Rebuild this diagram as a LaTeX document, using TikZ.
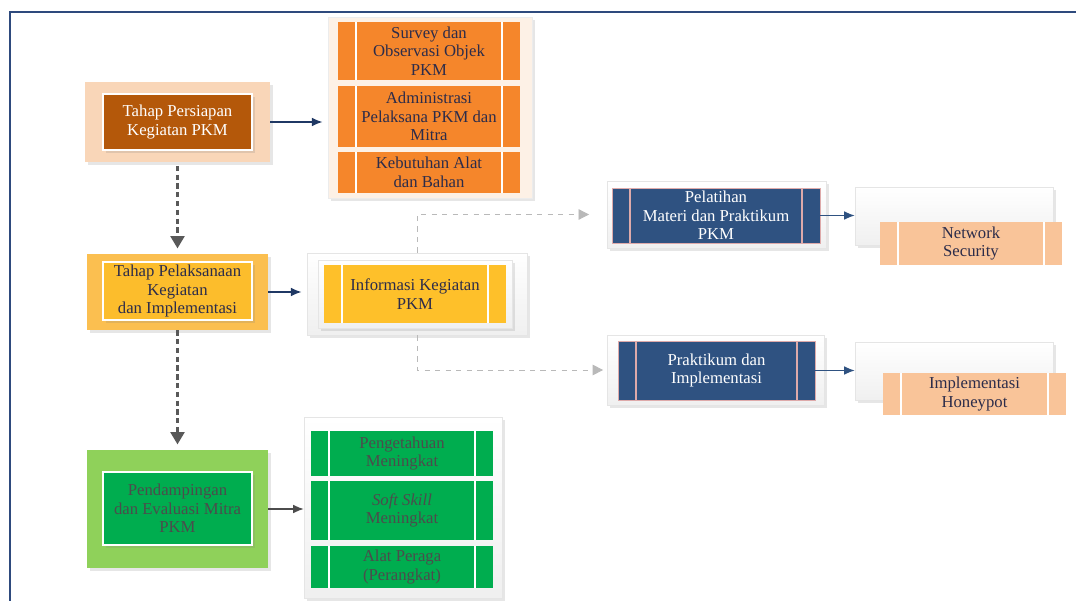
\documentclass[tikz,border=0pt]{standalone}
\usepackage{fontspec}
\setmainfont{Liberation Serif}
\usetikzlibrary{shadows,arrows.meta}
\definecolor{framec}{RGB}{46,74,125}
\definecolor{prepbg}{RGB}{249,214,184}
\definecolor{prepc}{RGB}{180,88,10}
\definecolor{orgbg}{RGB}{253,241,230}
\definecolor{orgc}{RGB}{245,134,43}
\definecolor{pelakbg}{RGB}{251,191,80}
\definecolor{pelakc}{RGB}{252,189,44}
\definecolor{infoc}{RGB}{254,192,42}
\definecolor{bluec}{RGB}{47,82,129}
\definecolor{pinkc}{RGB}{222,170,170}
\definecolor{peachc}{RGB}{249,196,153}
\definecolor{pendbg}{RGB}{143,209,90}
\definecolor{greenc}{RGB}{0,173,79}
\definecolor{navytext}{RGB}{44,44,74}
\definecolor{navyarrow}{RGB}{31,56,100}
\begin{document}
\begin{tikzpicture}[x=0.02cm,y=-0.02cm,
    every node/.style={align=center,inner sep=1pt,
      font=\fontsize{9.5}{10.6}\selectfont},
    sz/.style 2 args={minimum width=#1*0.02cm,minimum height=#2*0.02cm},
    bars/.style={path picture={
      \draw[#1,line width=0.6pt]
        ([xshift=0.36cm]path picture bounding box.north west) --
        ([xshift=0.36cm]path picture bounding box.south west)
        ([xshift=-0.36cm]path picture bounding box.north east) --
        ([xshift=-0.36cm]path picture bounding box.south east);}},
    bars/.default=white,
    softshadow/.style={drop shadow={shadow xshift=1.5pt,
      shadow yshift=-1.5pt,opacity=0.2}},
    grouper/.style={draw=gray!20,top color=white,bottom color=gray!12,
      softshadow},
    stagebox/.style={draw=white,line width=0.8pt,softshadow},
    navyline/.style={-{Latex[length=6pt,width=5pt]},navyarrow,line width=0.7pt},
    blueline/.style={-{Latex[length=6pt,width=5pt]},bluec,line width=0.7pt},
    dashdown/.style={-{Triangle[length=7pt,width=8pt]},black!65,
      dash pattern=on 3pt off 2pt,line width=1.3pt},
    dashside/.style={-{Triangle[length=6pt,width=6pt]},gray!55,dashed,
      line width=0.5pt}]
  \useasboundingbox (0,0) rectangle (1076,601);
  \draw[framec,line width=1.5pt] (10,601) -- (10,12) -- (1076,12);

  % tahap persiapan
  \node[fill=prepbg,sz={185}{80},softshadow] (prepout) at (177.5,122) {};
  \node[stagebox,fill=prepc,text=white,sz={149}{56}] (prep) at (177.5,122)
    {Tahap Persiapan\\Kegiatan PKM};
  \node[fill=orgbg,draw=gray!15,sz={204}{181},softshadow] (orggrp) at (430,107.5) {};
  \draw
    (429,51) node[fill=orgc,bars,text=navytext,sz={182}{58}] (org1)
      {Survey dan\\Observasi Objek\\PKM}
    (429,116.5) node[fill=orgc,bars,text=navytext,sz={182}{61}] (org2)
      {Administrasi\\Pelaksana PKM dan\\Mitra}
    (429,172.5) node[fill=orgc,bars,text=navytext,sz={182}{41}] (org3)
      {Kebutuhan Alat\\dan Bahan};

  % tahap pelaksanaan
  \node[fill=pelakbg,sz={181}{76},softshadow] (pelakout) at (177.5,292) {};
  \node[stagebox,fill=pelakc,text=navytext,sz={149}{58}] (pelak) at (177.5,291)
    {Tahap Pelaksanaan\\Kegiatan\\dan Implementasi};
  \node[grouper,sz={220}{82}] (infoout) at (417,294) {};
  \node[grouper,sz={194}{68}] (infomid) at (415,294) {};
  \node[fill=infoc,bars,text=navytext,sz={182}{58}] (info) at (415,294)
    {Informasi Kegiatan\\PKM};

  \node[grouper,sz={219}{67}] (pelatout) at (716.5,214.5) {};
  \node[fill=bluec,draw=pinkc,bars=pinkc,text=white,sz={208}{55}] (pelat)
    at (716,215.5) {Pelatihan\\Materi dan Praktikum\\PKM};
  \node[grouper,sz={217}{70}] (praktout) at (715.5,370) {};
  \node[fill=bluec,draw=pinkc,bars=pinkc,text=white,sz={197}{59}] (prakt)
    at (716.5,370.5) {Praktikum dan\\Implementasi};

  \node[grouper,sz={198}{58}] (netbg) at (954,216) {};
  \node[fill=peachc,bars,text=navytext,sz={182}{43}] (net) at (971,243.5)
    {Network\\Security};
  \node[grouper,sz={198}{58}] (honbg) at (954,371) {};
  \node[fill=peachc,bars,text=navytext,sz={183}{42}] (hon) at (974.5,394)
    {Implementasi\\Honeypot};

  % pendampingan
  \node[fill=pendbg,sz={181}{118},softshadow] (pendout) at (177.5,509) {};
  \node[stagebox,fill=greenc,text=black!70,sz={149}{73}] (pend) at (177.5,508.5)
    {Pendampingan\\dan Evaluasi Mitra\\PKM};
  \node[grouper,sz={198}{181}] (grgrp) at (403,507.5) {};
  \draw
    (402,453.5) node[fill=greenc,bars,text=black!70,sz={182}{45}] (gr1)
      {Pengetahuan\\Meningkat}
    (402,510.5) node[fill=greenc,bars,text=black!70,sz={182}{59}] (gr2)
      {\textit{Soft Skill}\\Meningkat}
    (402,567) node[fill=greenc,bars,text=black!70,sz={182}{42}] (gr3)
      {Alat Peraga\\(Perangkat)};

  \begin{scope}
    \draw[navyline,shorten >=3pt] (prepout.east) -- (orggrp.west |- prepout.east);
    \draw[navyline,shorten >=3pt] (pelakout.east) -- (infoout.west |- pelakout.east);
    \draw[dashdown,shorten <=2pt,shorten >=3pt] (prepout.south) -- (pelakout.north);
    \draw[dashdown,shorten >=3pt] (pelakout.south) -- (pendout.north);
    \draw[dashside,shorten >=10pt] (infoout.north) |- (pelatout.west);
    \draw[dashside,shorten >=2pt] (infoout.south) |- (praktout.west);
    \draw[blueline] (pelat.east) -- (netbg.west |- pelat.east);
    \draw[blueline] (prakt.east) -- (honbg.west |- prakt.east);
    \draw[-{Latex[length=6pt,width=5pt]},black!70,line width=0.7pt]
      (pendout.east) -- (grgrp.west |- pendout.east);
  \end{scope}
\end{tikzpicture}
\end{document}
